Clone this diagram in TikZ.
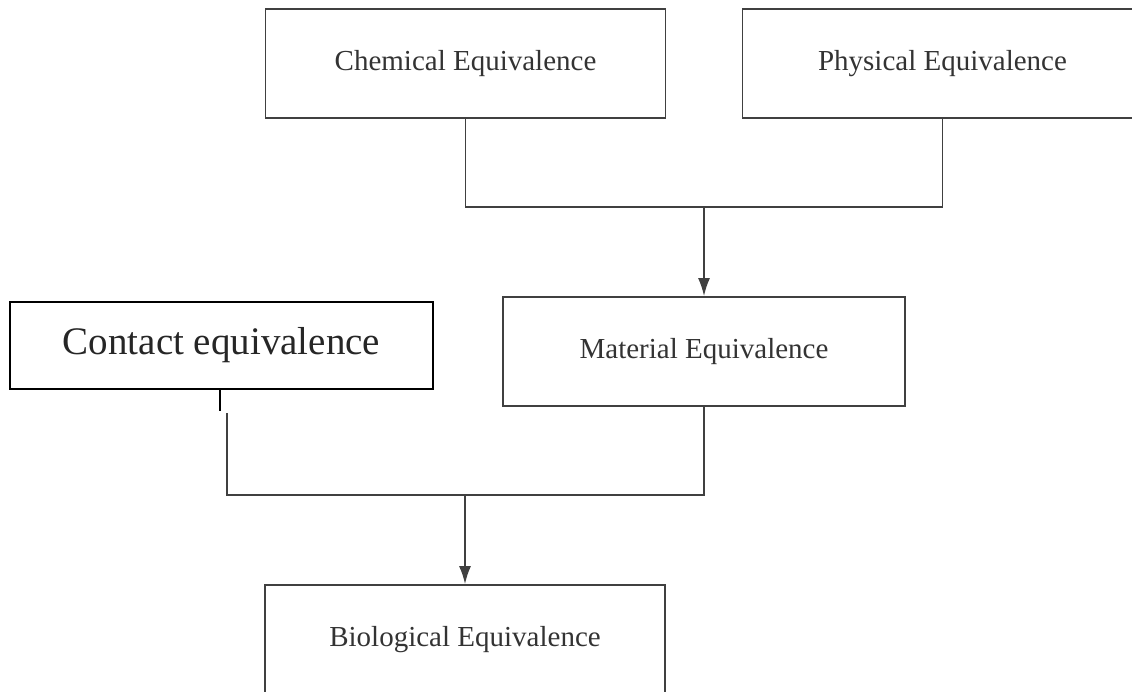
\documentclass[tikz,border=0pt]{standalone}
\usepackage{fontspec}
\setmainfont{Liberation Serif}
\usetikzlibrary{arrows.meta}
\definecolor{linegray}{HTML}{404040}
\definecolor{textgray}{HTML}{333333}
\begin{document}
\begin{tikzpicture}[x=1pt,y=-1pt,
  eqbox/.style={draw=linegray,line width=1.8pt,rectangle,minimum width=400pt,minimum height=109pt,inner sep=0pt,text=textgray,font=\fontsize{29}{33}\selectfont},
  contactbox/.style={draw=black,line width=2.6pt,rectangle,minimum width=423pt,minimum height=87pt,inner sep=0pt,text=black!85,font=\fontsize{39}{43}\selectfont},
  link/.style={draw=linegray,line width=1.7pt},
  arrowlink/.style={link,-{Latex[length=18pt,width=12pt]}},
  tick/.style={draw=black,line width=2.6pt}]
\useasboundingbox (0,0) rectangle (1132,691);
\begin{scope}
\clip (0,0) rectangle (1132,691);
\node[eqbox] (chem) at (465.5,63.5) {Chemical Equivalence};
\node[eqbox] (phys) at (942.5,63.5) {Physical Equivalence};
\node[eqbox,minimum width=402pt] (mat) at (704,351.5) {Material Equivalence};
\node[contactbox] (cont) at (221.5,345.5) {\raisebox{2pt}{Contact equivalence}};
\node[eqbox] (bio) at (465,639.5) {Biological Equivalence};
\coordinate (j1) at (704,207);
\coordinate (t1) at (220,389);
\coordinate (t2) at (220,411);
\coordinate (c1) at (227,413);
\coordinate (j2) at (465,495);
\draw[link] (chem.south) |- (j1) -| (phys.south);
\draw[arrowlink] (j1) -- (mat.north);
\draw[tick] (t1) -- (t2);
\draw[link] (c1) |- (j2) -| (mat.south);
\draw[arrowlink] (j2) -- (bio.north);
\end{scope}
\end{tikzpicture}
\end{document}
